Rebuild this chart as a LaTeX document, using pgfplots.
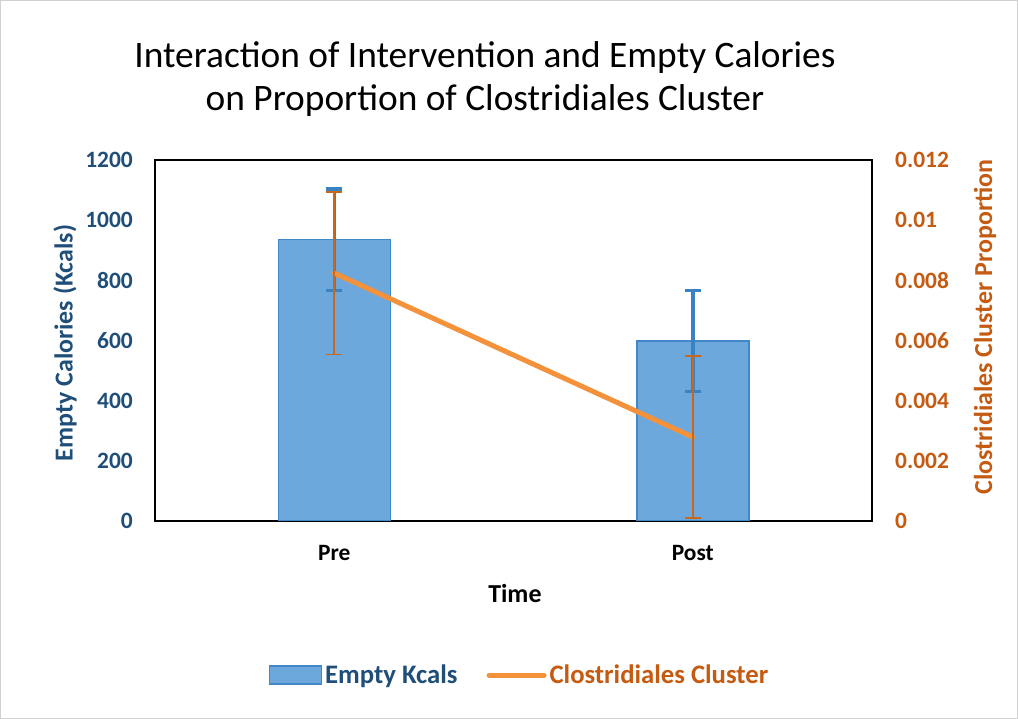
\documentclass[border=0pt]{standalone}
\usepackage{pgfplots}
\pgfplotsset{compat=1.18}
\usepackage{fontspec}
\setmainfont{Carlito}
\definecolor{barfill}{HTML}{6CA8DC}
\definecolor{barline}{HTML}{4288C8}
\definecolor{blueerr}{HTML}{3A82C2}
\definecolor{lineor}{HTML}{F4913B}
\definecolor{orerr}{HTML}{C8681C}
\definecolor{ltext}{HTML}{1F4E79}
\definecolor{rtext}{HTML}{C55A11}
\begin{document}
\begin{tikzpicture}[x=1bp,y=1bp]
\useasboundingbox (0,0) rectangle (1018,719);
\draw[color=black!18, line width=1bp] (0.5,0.5) rectangle (1017.5,718.5);
\node[align=center, font=\fontsize{37.5}{44}\selectfont] at (485,640) {Interaction of Intervention and Empty Calories\\on Proportion of Clostridiales Cluster};
\begin{axis}[
  at={(155bp,198bp)}, anchor=south west, scale only axis,
  width=717bp, height=361bp,
  xmin=-0.5, xmax=1.5, ymin=0, ymax=1200,
  xtick={0,1}, xticklabels={Pre,Post},
  ytick={0,200,400,600,800,1000,1200},
  yticklabels={0,200,400,600,800,1000,1200},
  major tick length=0pt,
  axis line style={line width=1.3bp},
  tick label style={font=\bfseries\fontsize{23.5}{27}\selectfont, inner sep=0pt},
  yticklabel style={color=ltext, xshift=-22bp},
  xticklabel style={color=black, anchor=north, yshift=-24bp},
  xlabel={Time},
  xlabel style={font=\bfseries\fontsize{26}{30}\selectfont, inner sep=0pt, at={(axis description cs:0.502,0)}, anchor=north, yshift=-63bp},
  ylabel={Empty Calories (Kcals)},
  ylabel style={font=\bfseries\fontsize{26}{30}\selectfont, color=ltext, at={(axis description cs:-0.1255,0.493)}, anchor=center},
  legend style={at={(0.509,-0.427)}, anchor=center, draw=none, fill=none, legend columns=2,
    font=\bfseries\fontsize{26.8}{30}\selectfont,
    nodes={inner sep=3bp},
    /tikz/every even column/.append style={column sep=26bp}},
  legend cell align=left,
]
\addplot[ybar, bar width=112bp, fill=barfill, draw=barline, line width=1.5bp,
  legend image code/.code={\draw[fill=barfill, draw=barline, line width=1.5bp] (0bp,-9bp) rectangle (52bp,9bp);},
  error bars/.cd, y dir=both, y explicit,
  error bar style={blueerr, line width=3.5bp},
  error mark options={rotate=90, mark size=8bp, blueerr, line width=3.5bp}]
  coordinates {(0,935) +- (0,168) (1,598) +- (0,168)};
\addlegendentry{\textcolor{ltext}{Empty Kcals}}
\addlegendimage{legend image code/.code={\draw[lineor, line width=5bp, line cap=round] (0bp,0bp) -- (55bp,0bp);}}
\addlegendentry{\textcolor{rtext}{Clostridiales Cluster}}
\end{axis}
\begin{axis}[
  at={(155bp,198bp)}, anchor=south west, scale only axis,
  width=717bp, height=361bp,
  xmin=-0.5, xmax=1.5, ymin=0, ymax=0.012,
  axis y line*=right, axis x line=none,
  scaled y ticks=false,
  ytick={0,0.002,0.004,0.006,0.008,0.01,0.012},
  yticklabels={0,0.002,0.004,0.006,0.008,0.01,0.012},
  major tick length=0pt,
  axis line style={line width=1.3bp},
  tick label style={font=\bfseries\fontsize{23.5}{27}\selectfont, inner sep=0pt},
  yticklabel style={color=rtext, anchor=west, xshift=23bp},
  ylabel={Clostridiales Cluster Proportion},
  ylabel style={font=\bfseries\fontsize{26}{30}\selectfont, color=rtext, at={(axis description cs:1.1576,0.537)}, anchor=center},
]
\addplot[lineor, line width=5bp, line cap=round, no markers,
  error bars/.cd, y dir=both, y explicit,
  error bar style={orerr, line width=1.6bp},
  error mark options={rotate=90, mark size=8bp, orerr, line width=1.6bp}]
  coordinates {(0,0.00824) +- (0,0.0027) (1,0.00279) +- (0,0.0027)};
\end{axis}
\end{tikzpicture}
\end{document}
